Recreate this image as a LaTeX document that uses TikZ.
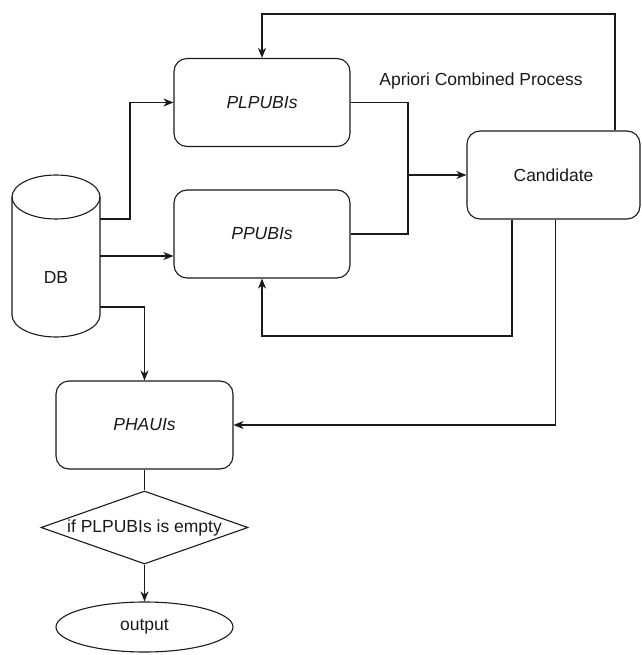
\documentclass[tikz,border=0pt]{standalone}
\usepackage{fontspec}
\setmainfont{Liberation Sans}
\usetikzlibrary{shapes.geometric,arrows.meta}
\definecolor{ink}{HTML}{1A1A1A}
\begin{document}
\begin{tikzpicture}[x=1pt,y=-1pt,
  line width=1.1pt, draw=ink, text=ink,
  every node/.style={font=\fontsize{17.5}{20}\selectfont},
  proc/.style={draw=ink, rounded corners=13pt, minimum width=176pt, minimum height=88pt, inner sep=0pt, fill=white},
  decide/.style={draw=ink, diamond, aspect=2.8, minimum width=207pt, minimum height=73pt, inner sep=0pt},
  term/.style={draw=ink, ellipse, minimum width=177pt, minimum height=50pt, inner sep=0pt},
  arr/.style={-{Stealth[length=10pt,width=8pt,inset=3pt]}, draw=ink},
  wire/.style={draw=ink}]
\useasboundingbox (0,0) rectangle (641,655);

% database cylinder
\draw[fill=white] (12,197) -- (12,315) arc[start angle=180,end angle=0,x radius=44,y radius=22] -- (100,197);
\draw (56,197) ellipse [x radius=44,y radius=22];
\node[minimum width=88pt, minimum height=162pt, inner sep=0pt] (db) at (56,256) {};
\node (dbl) at (56,277) {DB};

% process boxes
\node[proc] (plp) at (262,102.5) {\itshape PLPUBIs};
\node[proc] (pp) at (262,234) {\itshape PPUBIs};
\node[proc, minimum width=173pt] (cand) at (553.5,175) {Candidate};
\node[proc, minimum width=177pt] (ph) at (144.5,425) {\itshape PHAUIs};
\node[decide] (dec) at (144.5,527.5) {if PLPUBIs is empty};
\node[term] (out) at (144.5,627) {output};
\node (lbl) at (481,81) {Apriori Combined Process};

% routing points
\coordinate (dbA) at (100,219);
\coordinate (dbB) at (100,256);
\coordinate (dbC) at (100,307);
\coordinate (join) at (408,175);
\coordinate (top) at (615,14);
\coordinate (back) at (512,336);

% connectors from the database
\draw[arr] (dbA) -- ++(30,0) |- (plp.west);
\draw[arr] (dbB) -- (dbB -| pp.west);
\draw[arr] (dbC) -| (ph.north);

% merge into the candidate box
\draw[wire] (plp.east) -| (join) |- (pp.east);
\draw[arr] (join) -- (cand.west);

% feedback loops
\draw[arr] (cand.north -| top) -- (top) -| (plp.north);
\draw[arr] (cand.south -| back) -- (back) -| (pp.south);
\draw[arr] ([xshift=2pt]cand.south) |- (ph.east);

% final steps
\draw[wire] (ph.south) -- (dec.north);
\draw[arr] (dec.south) -- (out.north);
\end{tikzpicture}
\end{document}
